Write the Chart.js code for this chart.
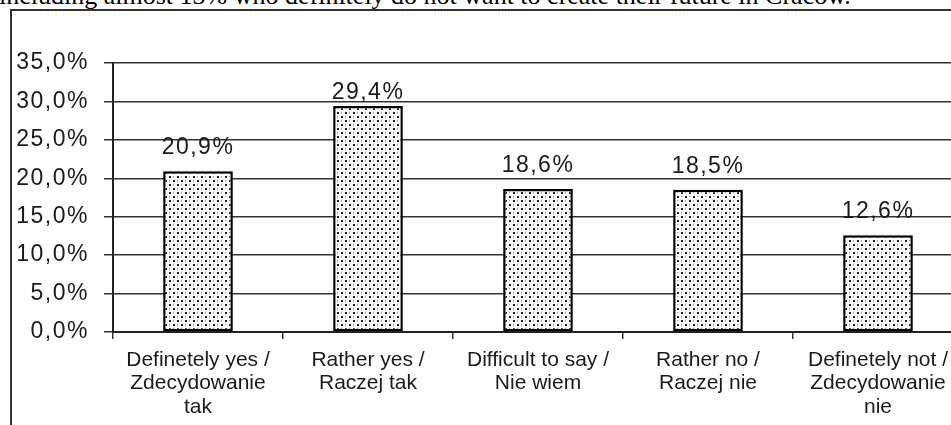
<!DOCTYPE html>
<html>
<head>
<meta charset="utf-8">
<script src="https://cdn.jsdelivr.net/npm/chart.js@4.4.1/dist/chart.umd.min.js"></script>
<style>
  html, body { margin: 0; padding: 0; background: #fff; overflow: hidden; width: 951px; height: 425px; }
  #caption {
    position: absolute; left: -1px; top: -17px; white-space: nowrap;
    font: 26px/26px "Liberation Serif", "DejaVu Serif", serif; color: #000;
  }
  #frame {
    position: absolute; left: 10px; top: 9px; width: 980px; height: 430px;
    border-left: 2px solid #333; border-top: 2px solid #333;
  }
  #chart { display: block; }
</style>
</head>
<body>
<div id="caption">including almost 13% who definitely do not want to create their future in Cracow.</div>
<div id="frame"><canvas id="chart" width="960" height="420"></canvas></div>
<script>
// answers to "would you like to create your future in Cracow?"
const categories = [
  ["Definetely yes /", "Zdecydowanie", "tak"],
  ["Rather yes /", "Raczej tak"],
  ["Difficult to say /", "Nie wiem"],
  ["Rather no /", "Raczej nie"],
  ["Definetely not /", "Zdecydowanie", "nie"]
];
const shares = [20.9, 29.4, 18.6, 18.5, 12.6];
const yMin = 0, yMax = 35, yStep = 5;

const fmt = v => v.toFixed(1).replace('.', ',') + '%';

// dotted fill like the excel pattern
function dotPattern() {
  const c = document.createElement('canvas');
  c.width = 8; c.height = 8;
  const g = c.getContext('2d');
  g.fillStyle = '#fff'; g.fillRect(0, 0, 8, 8);
  g.fillStyle = '#222';
  g.fillRect(1, 1, 2, 2); g.fillRect(5, 5, 2, 2);
  g.fillStyle = '#8a8a8a';
  g.fillRect(5, 1, 1, 1); g.fillRect(1, 5, 1, 1);
  return g.createPattern(c, 'repeat');
}

const font = '"Liberation Sans", Arial, sans-serif';

const valueLabels = {
  id: 'valueLabels',
  afterDatasetsDraw(chart) {
    const ctx = chart.ctx;
    const meta = chart.getDatasetMeta(0);
    ctx.save();
    ctx.font = '23px ' + font;
    ctx.letterSpacing = '1.5px';
    ctx.fillStyle = '#1a1a1a';
    ctx.textAlign = 'center';
    ctx.textBaseline = 'alphabetic';
    meta.data.forEach((bar, i) => {
      const gap = i === 1 ? 7 : 17;
      ctx.fillText(fmt(shares[i]), bar.x, bar.y - gap);
    });
    ctx.restore();
  }
};

// y tick labels are a bit spaced out; x labels (ticks.z 1, drawn later) are not
const spacing = {
  id: 'spacing',
  beforeDraw(chart) { chart.ctx.letterSpacing = '1.5px'; },
  beforeDatasetsDraw(chart) { chart.ctx.letterSpacing = '0px'; }
};

const ctx = document.getElementById('chart').getContext('2d');
const chart = new Chart(ctx, {
  type: 'bar',
  data: {
    labels: categories,
    datasets: [{
      data: shares,
      backgroundColor: dotPattern(),
      borderColor: '#000',
      borderWidth: 2.5,
      borderSkipped: false,
      categoryPercentage: 1,
      barPercentage: 0.41
    }]
  },
  options: {
    responsive: false,
    animation: false,
    layout: { padding: { top: 52, right: 9, left: 0, bottom: 0 } },
    plugins: { legend: { display: false }, tooltip: { enabled: false } },
    scales: {
      x: {
        grid: { display: true, drawOnChartArea: false, offset: true, tickLength: 7, color: '#333', lineWidth: 1.5 },
        border: { display: true, color: '#222', width: 2 },
        ticks: { z: 1, color: '#1a1a1a', font: { size: 21, family: font, lineHeight: 1.1 }, padding: 10, maxRotation: 0, autoSkip: false },
        afterFit(scale) { scale.height = 99; }
      },
      y: {
        min: yMin, max: yMax,
        grid: { color: '#333', lineWidth: 1.5, tickLength: 9 },
        border: { display: true, color: '#222', width: 2 },
        ticks: { stepSize: yStep, color: '#1a1a1a', font: { size: 23, family: font }, padding: 15, callback: v => fmt(v) },
        afterFit(scale) { scale.width = 101; }
      }
    }
  },
  plugins: [spacing, valueLabels]
});
</script>
</body>
</html>
